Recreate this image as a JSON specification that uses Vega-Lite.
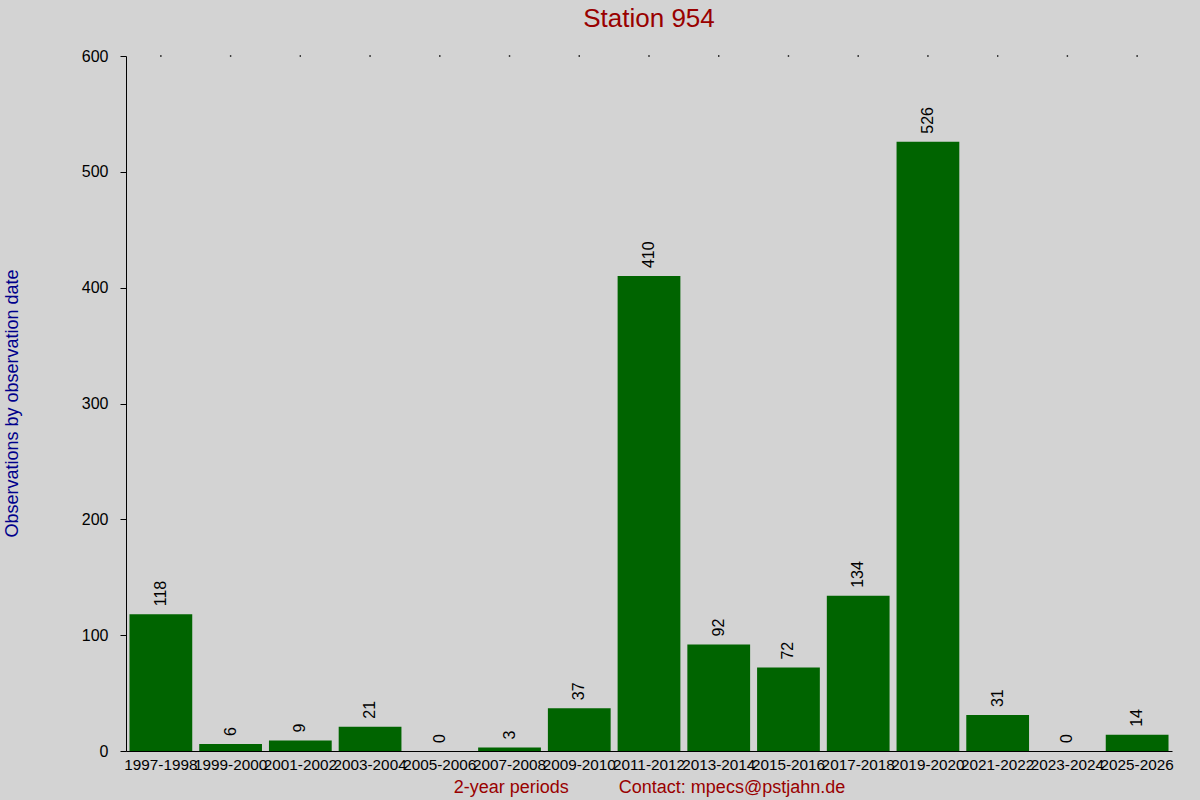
{
  "$schema": "https://vega.github.io/schema/vega-lite/v6.json",
  "description": "Observations of station 954 per 2-year period",
  "autosize": "none",
  "padding": {"left": 126, "top": 56, "right": 28, "bottom": 49},
  "width": 1046,
  "height": 695,
  "background": "#d3d3d3",
  "title": {
    "text": "Station 954",
    "font": "Liberation Sans",
    "fontSize": 26,
    "fontWeight": "normal",
    "color": "#990000",
    "anchor": "middle",
    "frame": "group",
    "baseline": "alphabetic",
    "offset": 0,
    "dy": 5
  },
  "data": {
    "values": [
      {"period": "1997-1998", "count": 118},
      {"period": "1999-2000", "count": 6},
      {"period": "2001-2002", "count": 9},
      {"period": "2003-2004", "count": 21},
      {"period": "2005-2006", "count": 0},
      {"period": "2007-2008", "count": 3},
      {"period": "2009-2010", "count": 37},
      {"period": "2011-2012", "count": 410},
      {"period": "2013-2014", "count": 92},
      {"period": "2015-2016", "count": 72},
      {"period": "2017-2018", "count": 134},
      {"period": "2019-2020", "count": 526},
      {"period": "2021-2022", "count": 31},
      {"period": "2023-2024", "count": 0},
      {"period": "2025-2026", "count": 14}
    ]
  },
  "encoding": {
    "x": {
      "field": "period",
      "type": "ordinal",
      "sort": null,
      "scale": {"paddingInner": 0.1, "paddingOuter": 0.05},
      "axis": {
        "title": "2-year periods\u00a0\u00a0\u00a0\u00a0\u00a0\u00a0\u00a0\u00a0\u00a0\u00a0Contact: mpecs@pstjahn.de",
        "titleFont": "Liberation Sans",
        "titleFontSize": 18,
        "titleFontWeight": "normal",
        "titleColor": "#990000",
        "titleBaseline": "alphabetic",
        "titleY": 41,
        "labelAngle": 0,
        "labelFont": "Liberation Sans",
        "labelFontSize": 15.3,
        "labelColor": "#000000",
        "labelOverlap": false,
        "labelLimit": 0,
        "labelBound": false,
        "labelPadding": 6,
        "ticks": false,
        "domainColor": "#000000",
        "domainWidth": 1
      }
    },
    "y": {
      "field": "count",
      "type": "quantitative",
      "scale": {"domain": [0, 600], "nice": false},
      "axis": {
        "title": "Observations by observation date",
        "titleFont": "Liberation Sans",
        "titleFontSize": 18,
        "titleFontWeight": "normal",
        "titleColor": "#00008b",
        "titleBaseline": "alphabetic",
        "titleAlign": "center",
        "titleAngle": 270,
        "titleX": -109,
        "titleY": 347,
        "values": [0, 100, 200, 300, 400, 500, 600],
        "grid": false,
        "tickSize": 6,
        "tickColor": "#000000",
        "domainColor": "#000000",
        "labelFont": "Liberation Sans",
        "labelFontSize": 16,
        "labelColor": "#000000",
        "labelPadding": 12
      }
    }
  },
  "layer": [
    {
      "mark": {"type": "bar", "color": "#006400"}
    },
    {
      "mark": {
        "type": "text",
        "angle": 270,
        "align": "left",
        "baseline": "middle",
        "dx": 8,
        "font": "Liberation Sans",
        "fontSize": 16,
        "color": "#000000"
      },
      "encoding": {
        "text": {"field": "count", "type": "quantitative"}
      }
    },
    {
      "mark": {"type": "square", "size": 2, "color": "#000000", "filled": true, "opacity": 1},
      "encoding": {
        "y": {"datum": 600}
      }
    }
  ],
  "config": {
    "view": {"stroke": null},
    "font": "Liberation Sans"
  }
}
